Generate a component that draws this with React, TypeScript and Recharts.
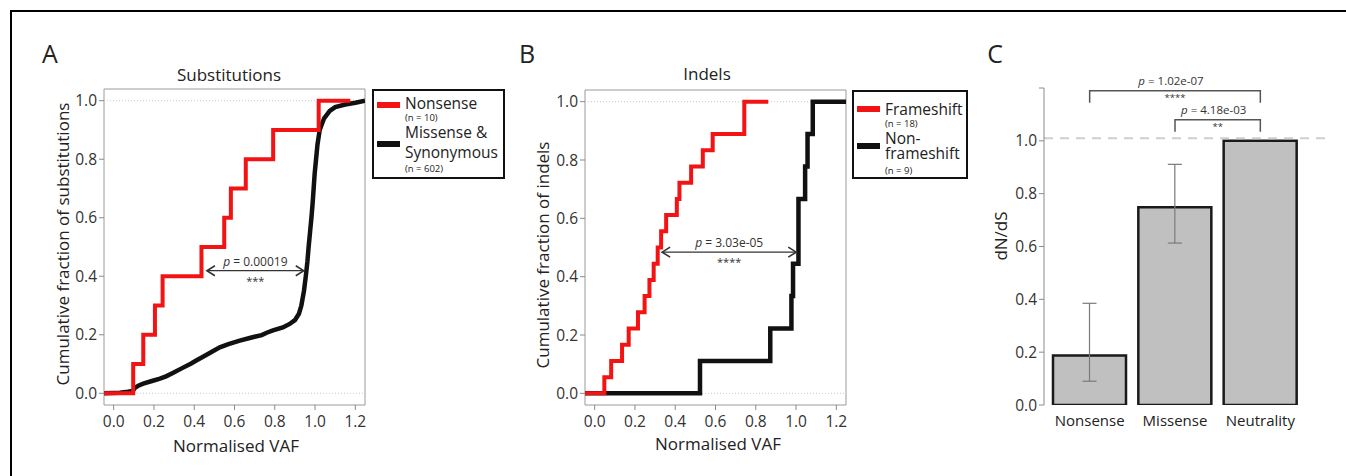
import React from 'react';
import {
  LineChart, Line, XAxis, YAxis, ReferenceLine, ReferenceArea,
  BarChart, Bar, ErrorBar,
} from 'recharts';

const FONT = '"Open Sans", "DejaVu Sans", sans-serif';
const RED = '#f21414';
const BLACK = '#111111';
const GREY_AXIS = '#8a8a8a';

// axis ranges / ticks
const VAF_DOMAIN: [number, number] = [-0.048, 1.248];
const FRAC_DOMAIN: [number, number] = [-0.04, 1.04];
const vafTicks = [0, 0.2, 0.4, 0.6, 0.8, 1.0, 1.2];
const fracTicks = [0, 0.2, 0.4, 0.6, 0.8, 1.0];
const dndsTicks = [0, 0.2, 0.4, 0.6, 0.8, 1.0, 1.2];

// A - substitutions, sorted normalised VAF of the nonsense mutations
const nonsenseVaf = [0.097, 0.147, 0.205, 0.243, 0.436, 0.549, 0.582, 0.656, 0.792, 1.018];
const nonsenseEnd = 1.175;
// missense & synonymous ECDF (n = 602)
const missenseX = [
  -0.048, 0.03, 0.07, 0.095, 0.106, 0.125, 0.147, 0.19, 0.23, 0.26, 0.296, 0.34, 0.385, 0.41,
  0.444, 0.49, 0.527, 0.57, 0.626, 0.68, 0.735, 0.76, 0.791, 0.84, 0.874, 0.9, 0.92, 0.932,
  0.945, 0.954, 0.962, 0.968, 0.975, 0.982, 0.988, 0.993, 0.998, 1.005, 1.012, 1.023, 1.045,
  1.073, 1.1, 1.15, 1.2, 1.248,
];
const missenseFrac = [
  0, 0.002, 0.005, 0.008, 0.019, 0.027, 0.033, 0.042, 0.05, 0.058, 0.07, 0.086, 0.102, 0.112,
  0.125, 0.143, 0.157, 0.168, 0.18, 0.19, 0.199, 0.207, 0.215, 0.225, 0.237, 0.25, 0.272, 0.3,
  0.35, 0.4, 0.45, 0.5, 0.55, 0.6, 0.65, 0.7, 0.75, 0.8, 0.85, 0.9, 0.94,
  0.965, 0.978, 0.987, 0.993, 1.0,
];

// B - indels
const frameshiftVaf = [
  0.048, 0.082, 0.136, 0.169, 0.215, 0.248, 0.272, 0.293, 0.313, 0.33, 0.355, 0.408, 0.421,
  0.479, 0.537, 0.586, 0.743, 0.743,
];
const frameshiftEnd = 0.862;
const nonFrameshiftVaf = [0.523, 0.872, 0.977, 0.985, 1.012, 1.012, 1.045, 1.057, 1.083];

// C - dN/dS
const categories = ['Nonsense', 'Missense', 'Neutrality'];
const dnds = [0.187, 0.749, 1.0];
const ciLow = [0.09, 0.613, null];
const ciHigh = [0.385, 0.911, null];
const comparisons = [
  { from: 'Nonsense', to: 'Neutrality', p: '1.02e-07', stars: '****' },
  { from: 'Missense', to: 'Neutrality', p: '4.18e-03', stars: '**' },
];

type Pt = { x: number; y: number };
const ecdf = (vals: number[], end: number): Pt[] => [
  { x: VAF_DOMAIN[0], y: 0 },
  ...vals.map((v, i) => ({ x: v, y: (i + 1) / vals.length })),
  { x: end, y: 1 },
];

const nonsenseData = ecdf(nonsenseVaf, nonsenseEnd);
const missenseData: Pt[] = missenseX.map((x, i) => ({ x, y: missenseFrac[i] }));
const frameshiftData = ecdf(frameshiftVaf, frameshiftEnd);
const nonFrameshiftData = ecdf(nonFrameshiftVaf, VAF_DOMAIN[1]);

const dndsData = categories.map((name, i) => ({
  name,
  value: dnds[i],
  err: ciLow[i] == null ? null : [dnds[i] - (ciLow[i] as number), (ciHigh[i] as number) - dnds[i]],
}));

const fmt = (v: number) => v.toFixed(1);
const tickStyle = { fill: '#333', fontSize: 15.5, fontFamily: FONT };

const arrowShape = (p: string, stars: string) => (props: any) => {
  const { x1, y1, x2 } = props;
  const y = y1;
  return (
    <g>
      <line x1={x1 + 1} y1={y} x2={x2 - 1} y2={y} stroke="#333" strokeWidth={1.3} />
      <path d={`M${x1 + 9},${y - 5} L${x1 + 1},${y} L${x1 + 9},${y + 5}`} fill="none" stroke="#333" strokeWidth={1.6} />
      <path d={`M${x2 - 9},${y - 5} L${x2 - 1},${y} L${x2 - 9},${y + 5}`} fill="none" stroke="#333" strokeWidth={1.6} />
      <text x={(x1 + x2) / 2} y={y - 5} textAnchor="middle" fontSize={12} fill="#333" fontFamily={FONT}>
        <tspan fontStyle="italic">p</tspan> = {p}
      </text>
      <text x={(x1 + x2) / 2} y={y + 14} textAnchor="middle" fontSize={11} fill="#333" fontFamily={FONT}>{stars}</text>
    </g>
  );
};

const bracketShape = (p: string, stars: string) => (props: any) => {
  const { x1, y1, x2 } = props;
  return (
    <g>
      <path d={`M${x1},${y1 + 12} V${y1} H${x2} V${y1 + 12}`} fill="none" stroke="#555" strokeWidth={1.5} />
      <text x={(x1 + x2) / 2 - 4} y={y1 - 6} textAnchor="middle" fontSize={11.5} fill="#333" fontFamily={FONT}>
        <tspan fontStyle="italic">p</tspan> = {p}
      </text>
      <text x={(x1 + x2) / 2} y={y1 + 10} textAnchor="middle" fontSize={9.5} fill="#333" fontFamily={FONT}>{stars}</text>
    </g>
  );
};

function Txt({ x, y, size, rotate, children, color = '#222' }: any) {
  return (
    <div
      style={{
        position: 'absolute', left: x, top: y, fontSize: size, color, whiteSpace: 'nowrap',
        lineHeight: 1, transform: `translate(-50%, -50%)${rotate ? ' rotate(-90deg)' : ''}`,
      }}
    >
      {children}
    </div>
  );
}

// each entry: swatch centre, first text-line centre, line height, n-label centre
function LegendBox({ left, top, width, height, entries }: any) {
  return (
    <div
      style={{
        position: 'absolute', left, top, width, height, border: '2px solid #111',
        boxSizing: 'border-box', background: '#fff',
      }}
    >
      {entries.map((e: any, i: number) => {
        const t = e.center - e.lh / 2;
        const sl = 2 * (e.nCenter - t - e.lines.length * e.lh);
        return (
          <React.Fragment key={i}>
            <div style={{ position: 'absolute', left: 3, top: e.swatchY - 3, width: 23, height: 6, background: e.color }} />
            <div
              style={{
                position: 'absolute', left: 31, top: t, fontSize: 15.5, lineHeight: `${e.lh}px`,
                color: '#222', whiteSpace: 'nowrap',
              }}
            >
              {e.lines.map((l: string, j: number) => (
                <React.Fragment key={j}>{l}<br /></React.Fragment>
              ))}
              <span style={{ display: 'block', fontSize: 9.5, lineHeight: `${sl}px` }}>{e.n}</span>
            </div>
          </React.Fragment>
        );
      })}
    </div>
  );
}

function EcdfChart({ left, top, right, black, red, arrow }: any) {
  return (
    <LineChart
      width={520} height={476}
      margin={{ top, right, bottom: 41, left }}
      style={{ position: 'absolute', left: 0, top: 0 }}
    >
      <XAxis
        type="number" dataKey="x" domain={VAF_DOMAIN} ticks={vafTicks} allowDataOverflow
        tickFormatter={fmt} axisLine={false} tickLine={{ stroke: GREY_AXIS }} tickSize={5}
        tickMargin={6} height={30} tick={tickStyle}
      />
      <YAxis
        type="number" dataKey="y" domain={FRAC_DOMAIN} ticks={fracTicks} allowDataOverflow
        tickFormatter={fmt} axisLine={false} tickLine={{ stroke: GREY_AXIS }} tickSize={5}
        tickMargin={2} width={40} tick={tickStyle}
      />
      <ReferenceArea
        x1={VAF_DOMAIN[0]} x2={VAF_DOMAIN[1]} y1={FRAC_DOMAIN[0]} y2={FRAC_DOMAIN[1]}
        fill="none" fillOpacity={0} stroke="#9a9a9a" strokeWidth={1} ifOverflow="visible"
      />
      <ReferenceLine y={0} stroke="#c8c8c8" strokeDasharray="1 2" />
      <ReferenceLine y={1} stroke="#c8c8c8" strokeDasharray="1 2" />
      <Line
        data={black.data} dataKey="y" type={black.type} stroke={BLACK} strokeWidth={4.5}
        dot={false} isAnimationActive={false}
      />
      <Line
        data={red} dataKey="y" type="stepAfter" stroke={RED} strokeWidth={4}
        dot={false} isAnimationActive={false}
      />
      <ReferenceLine
        segment={[{ x: arrow.x1, y: arrow.y }, { x: arrow.x2, y: arrow.y }]}
        ifOverflow="visible" shape={arrowShape(arrow.p, arrow.stars)}
      />
    </LineChart>
  );
}

export default function App() {
  return (
    <div
      style={{
        position: 'fixed', left: 0, top: 0, width: 1346, height: 476, background: '#fff',
        fontFamily: FONT, overflow: 'hidden',
      }}
    >
      <div style={{ position: 'absolute', left: 10, top: 10, right: 0, bottom: 0, borderTop: '2px solid #000', borderLeft: '2px solid #000' }} />

      {/* A */}
      <div style={{ position: 'absolute', left: 0, top: 0, width: 520, height: 476 }}>
        <EcdfChart
          left={64} top={89} right={155}
          black={{ data: missenseData, type: 'linear' }}
          red={nonsenseData}
          arrow={{ x1: 0.458, x2: 0.949, y: 0.419, p: '0.00019', stars: '***' }}
        />
        <Txt x={50} y={53} size={25}>A</Txt>
        <Txt x={229} y={74} size={17}>Substitutions</Txt>
        <Txt x={62} y={244} size={17} rotate>Cumulative fraction of substitutions</Txt>
        <Txt x={236} y={445} size={17}>Normalised VAF</Txt>
        <LegendBox
          left={372} top={89} width={133} height={90}
          entries={[
            { color: RED, swatchY: 14, lines: ['Nonsense'], center: 12, lh: 16, n: '(n = 10)', nCenter: 27 },
            { color: BLACK, swatchY: 53, lines: ['Missense &', 'Synonymous'], center: 41, lh: 20, n: '(n = 602)', nCenter: 78 },
          ]}
        />
      </div>

      {/* B */}
      <div style={{ position: 'absolute', left: 480, top: 0, width: 520, height: 476 }}>
        <EcdfChart
          left={65} top={90} right={154}
          black={{ data: nonFrameshiftData, type: 'stepAfter' }}
          red={frameshiftData}
          arrow={{ x1: 0.33, x2: 1.006, y: 0.484, p: '3.03e-05', stars: '****' }}
        />
        <Txt x={47} y={53} size={25}>B</Txt>
        <Txt x={227} y={73} size={17}>Indels</Txt>
        <Txt x={62} y={255} size={17} rotate>Cumulative fraction of indels</Txt>
        <Txt x={238} y={443} size={17}>Normalised VAF</Txt>
        <LegendBox
          left={372} top={90} width={116} height={89}
          entries={[
            { color: RED, swatchY: 17, lines: ['Frameshift'], center: 17, lh: 16, n: '(n = 18)', nCenter: 32 },
            { color: BLACK, swatchY: 54, lines: ['Non-', 'frameshift'], center: 46, lh: 15, n: '(n = 9)', nCenter: 78 },
          ]}
        />
      </div>

      {/* C */}
      <div style={{ position: 'absolute', left: 960, top: 0, width: 386, height: 476 }}>
        <BarChart
          width={386} height={476} data={dndsData}
          margin={{ top: 88, right: 19, bottom: 41, left: 44 }}
        >
          <XAxis
            dataKey="name" axisLine={false} tickLine={false} tickMargin={4} height={30}
            padding={{ left: 3, right: 24 }} tick={{ ...tickStyle, fontSize: 15, fill: '#222' }}
          />
          <YAxis
            type="number" domain={[0, 1.2]} ticks={dndsTicks} allowDataOverflow
            tickFormatter={(v: number) => (v > 1.1 ? '' : v.toFixed(1))}
            axisLine={{ stroke: GREY_AXIS }} tickLine={{ stroke: GREY_AXIS }} tickSize={5}
            tickMargin={2} width={40} tick={tickStyle}
          />
          <Bar
            dataKey="value" fill="#c0c0c0" stroke="#1a1a1a" strokeWidth={2.5} barSize={73}
            isAnimationActive={false}
          >
            <ErrorBar dataKey="err" stroke="#7a7a7a" strokeWidth={1.2} width={7} direction="y" />
          </Bar>
          <ReferenceLine y={1.01} stroke="#cfcfcf" strokeWidth={2} strokeDasharray="9 7" />
          {comparisons.map((c, i) => (
            <ReferenceLine
              key={i}
              segment={[{ x: c.from, y: i === 0 ? 1.19 : 1.08 }, { x: c.to, y: i === 0 ? 1.19 : 1.08 }]}
              ifOverflow="visible" shape={bracketShape(c.p, c.stars)}
            />
          ))}
        </BarChart>
        <Txt x={35} y={53} size={25}>C</Txt>
        <Txt x={40} y={236} size={17} rotate>dN/dS</Txt>
      </div>
    </div>
  );
}
